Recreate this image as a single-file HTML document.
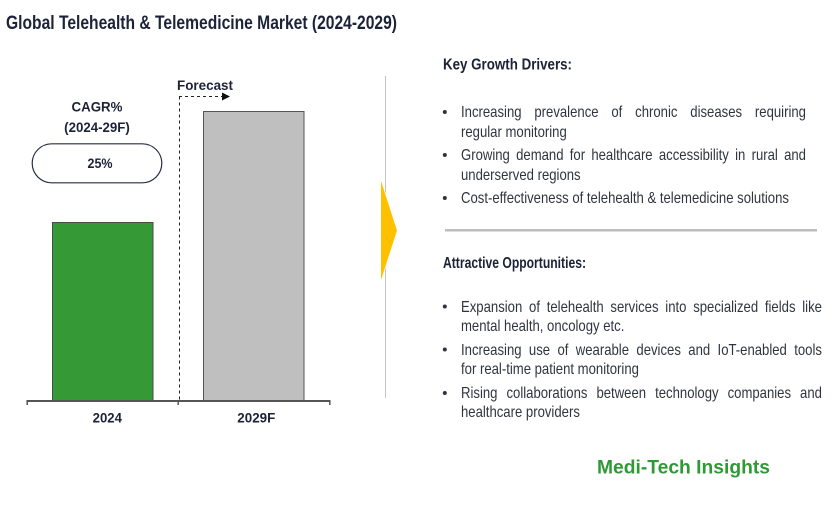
<!DOCTYPE html>
<html>
<head>
<meta charset="utf-8">
<style>
html,body{margin:0;padding:0;background:#fff;}
#wrap{position:relative;width:838px;height:506px;overflow:hidden;background:#fff;font-family:"Liberation Sans",Arial,sans-serif;}
svg{position:absolute;left:0;top:0;}
.ln{position:absolute;left:461px;font-size:16px;line-height:20px;color:#30343f;white-space:nowrap;transform:scaleX(0.82);transform-origin:0 0;}
.j{text-align:justify;text-align-last:justify;}
.d{width:420.7px;}
.o{width:440.2px;}
</style>
</head>
<body>
<div id="wrap">
<svg width="838" height="506" viewBox="0 0 838 506" xmlns="http://www.w3.org/2000/svg" font-family="Liberation Sans, Arial, sans-serif">
  <!-- Title -->
  <text x="6" y="29" font-size="19.5" font-weight="bold" fill="#1c2338" textLength="391" lengthAdjust="spacingAndGlyphs">Global Telehealth &amp; Telemedicine Market (2024-2029)</text>

  <!-- Forecast -->
  <text x="177" y="90" font-size="14" font-weight="bold" fill="#1c2338" textLength="56" lengthAdjust="spacingAndGlyphs">Forecast</text>
  <line x1="179.5" y1="96.5" x2="179.5" y2="400" stroke="#222" stroke-width="1" stroke-dasharray="3,3"/>
  <line x1="179" y1="96.5" x2="222" y2="96.5" stroke="#222" stroke-width="1" stroke-dasharray="3,3"/>
  <polygon points="222,92.5 230,96.5 222,100.5" fill="#111"/>

  <!-- CAGR -->
  <text x="97" y="111.5" font-size="14" font-weight="bold" fill="#1c2338" text-anchor="middle" textLength="51" lengthAdjust="spacingAndGlyphs">CAGR%</text>
  <text x="97" y="132" font-size="14" font-weight="bold" fill="#1c2338" text-anchor="middle" textLength="65.7" lengthAdjust="spacingAndGlyphs">(2024-29F)</text>
  <rect x="32.2" y="143.8" width="129.6" height="39" rx="19.5" ry="19.5" fill="#fff" stroke="#2a2f45" stroke-width="1.2"/>
  <text x="100" y="168" font-size="14" font-weight="bold" fill="#1c2338" text-anchor="middle" textLength="25" lengthAdjust="spacingAndGlyphs">25%</text>

  <!-- Bars -->
  <rect x="52.5" y="222.5" width="100.5" height="178" fill="#359a35" stroke="#4a4a4a" stroke-width="1"/>
  <rect x="203.5" y="111.5" width="100.5" height="289" fill="#bfbfbf" stroke="#555" stroke-width="1"/>

  <!-- Axis -->
  <line x1="26.5" y1="401" x2="330.5" y2="401" stroke="#555" stroke-width="2"/>
  <line x1="27.2" y1="400" x2="27.2" y2="405" stroke="#555" stroke-width="1.5"/>
  <line x1="178.2" y1="400" x2="178.2" y2="405" stroke="#555" stroke-width="1.5"/>
  <line x1="329.8" y1="400" x2="329.8" y2="405" stroke="#555" stroke-width="1.5"/>
  <text x="107.3" y="422.5" font-size="14" font-weight="bold" fill="#1c2338" text-anchor="middle" textLength="29.3" lengthAdjust="spacingAndGlyphs">2024</text>
  <text x="256.3" y="422.5" font-size="14" font-weight="bold" fill="#1c2338" text-anchor="middle" textLength="38" lengthAdjust="spacingAndGlyphs">2029F</text>

  <!-- Divider & arrow -->
  <line x1="385.5" y1="76" x2="385.5" y2="398" stroke="#c4c4c4" stroke-width="1"/>
  <polygon points="379,175 399.5,230.5 379,286" fill="#fff"/>
  <polygon points="381,181 397,230.5 381,280" fill="#ffc000"/>

  <!-- Separator -->
  <rect x="445" y="229" width="372" height="2.5" fill="#bdbdbd"/>

  <!-- Headings -->
  <text x="443" y="69.5" font-size="16" font-weight="bold" fill="#1c2236" textLength="129" lengthAdjust="spacingAndGlyphs">Key Growth Drivers:</text>
  <text x="443" y="268" font-size="16" font-weight="bold" fill="#1c2236" textLength="143" lengthAdjust="spacingAndGlyphs">Attractive Opportunities:</text>

  <!-- Bullets -->
  <g fill="#30343f">
    <circle cx="444.8" cy="112" r="2"/>
    <circle cx="444.8" cy="155" r="2"/>
    <circle cx="444.8" cy="198" r="2"/>
    <circle cx="444.8" cy="306.5" r="2"/>
    <circle cx="444.8" cy="349.5" r="2"/>
    <circle cx="444.8" cy="393" r="2"/>
  </g>

  <!-- Logo -->
  <text x="597" y="473.5" font-size="19" font-weight="bold" fill="#2f9a35" textLength="173" lengthAdjust="spacingAndGlyphs">Medi-Tech Insights</text>
</svg>

<!-- Drivers -->
<div class="ln j d" style="top:103px;">Increasing prevalence of chronic diseases requiring</div>
<div class="ln" style="top:122.5px;">regular monitoring</div>
<div class="ln j d" style="top:146px;">Growing demand for healthcare accessibility in rural and</div>
<div class="ln" style="top:165.5px;">underserved regions</div>
<div class="ln" style="top:189px;">Cost-effectiveness of telehealth &amp; telemedicine solutions</div>

<!-- Opportunities -->
<div class="ln j o" style="top:297.5px;">Expansion of telehealth services into specialized fields like</div>
<div class="ln" style="top:317px;">mental health, oncology etc.</div>
<div class="ln j o" style="top:340.5px;">Increasing use of wearable devices and IoT-enabled tools</div>
<div class="ln" style="top:360px;">for real-time patient monitoring</div>
<div class="ln j o" style="top:383.5px;">Rising collaborations between technology companies and</div>
<div class="ln" style="top:403px;">healthcare providers</div>
</div>
</body>
</html>
